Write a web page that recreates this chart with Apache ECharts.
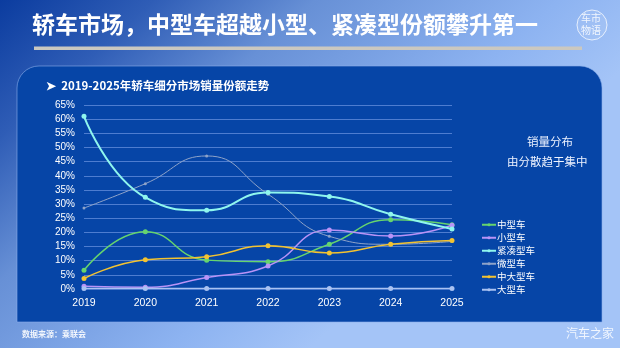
<!DOCTYPE html>
<html>
<head>
<meta charset="utf-8">
<script src="https://cdn.jsdelivr.net/npm/echarts@6/dist/echarts.min.js"></script>
<style>
  html, body { margin: 0; padding: 0; }
  #chart { width: 620px; height: 348px; }
</style>
</head>
<body>
<div id="chart"></div>
<script>
// years on x axis
var years = ['2019', '2020', '2021', '2022', '2023', '2024', '2025'];

// share of sedan sales, percent
var midSize = [6.6, 20.2, 10.2, 9.6, 15.8, 24.5, 22.7];      // 中型车
var small = [1.0, 0.6, 4.1, 8.1, 20.8, 18.7, 22.5];          // 小型车
var compact = [61.0, 32.4, 27.8, 34.1, 32.7, 26.4, 21.2];    // 紧凑型车
var mini = [28.6, 37.2, 47.0, 33.5, 18.6, 15.8, 16.8];       // 微型车
var midLarge = [3.7, 10.3, 11.4, 15.3, 12.7, 15.8, 17.1];    // 中大型车
var large = [0.2, 0.2, 0.2, 0.2, 0.2, 0.2, 0.2];             // 大型车

var seriesNames = ['中型车', '小型车', '紧凑型车', '微型车', '中大型车', '大型车'];
var seriesData = [midSize, small, compact, mini, midLarge, large];
var seriesColors = ['#66d46e', '#b993f7', '#8ff6ee', '#8ea3c9', '#f3c331', '#a9c2f2'];
var lineWidths = [1.5, 1.5, 2, 1, 1.5, 1.2];

var cjk = '"Noto Sans CJK SC", "Noto Sans", sans-serif';

var chart = echarts.init(document.getElementById('chart'));

var series = seriesNames.map(function (name, i) {
	return {
		name: name,
		type: 'line',
		smooth: true,
		data: seriesData[i],
		symbol: 'circle',
		symbolSize: i === 3 ? 3 : 5,
		itemStyle: { color: seriesColors[i] },
		lineStyle: { width: lineWidths[i], color: seriesColors[i] },
		z: i === 2 ? 5 : 3
	};
});

chart.setOption({
	// page background: dark blue top-left fading to light blue at the bottom
	backgroundColor: new echarts.graphic.LinearGradient(0, 0, 0.5, 1, [
		{ offset: 0, color: '#0b3c9f' },
		{ offset: 0.22, color: '#2f5db6' },
		{ offset: 0.45, color: '#6790d6' },
		{ offset: 0.8, color: '#8db3f1' },
		{ offset: 1, color: '#a4c4f7' }
	]),
	textStyle: { fontFamily: cjk },
	graphic: [
		// dark card behind the chart
		{
			type: 'rect', z: -1,
			shape: { x: 17, y: 66, width: 585, height: 256, r: [22, 22, 0, 0] },
			style: { fill: '#0645a7', stroke: 'rgba(140,175,235,0.6)', lineWidth: 1 }
		},
		// title
		{
			type: 'text', left: 32, top: 13,
			style: { text: '轿车市场，中型车超越小型、紧凑型份额攀升第一', fill: '#ffffff', font: 'bold 23px ' + cjk }
		},
		// underline
		{
			type: 'rect',
			shape: { x: 34, y: 46.5, width: 548, height: 3.5 },
			style: { fill: '#cbc8c0' }
		},
		// logo
		{
			type: 'circle',
			shape: { cx: 592, cy: 25, r: 15 },
			style: { fill: 'rgba(255,255,255,0.08)', stroke: 'rgba(255,255,255,0.75)', lineWidth: 1 }
		},
		{
			type: 'text', left: 581, top: 12,
			style: { text: '车市\n物语', fill: 'rgba(255,255,255,0.85)', font: '10px ' + cjk, lineHeight: 12 }
		},
		// subtitle
		{
			type: 'text', left: 46, top: 80,
			style: { text: '➤  2019-2025年轿车细分市场销量份额走势', fill: '#ffffff', font: 'bold 11.5px ' + cjk }
		},
		// side note
		{
			type: 'text', left: 527, top: 136,
			style: { text: '销量分布', fill: '#eef3ff', font: '11.5px ' + cjk, align: 'center' }
		},
		{
			type: 'text', left: 507, top: 156,
			style: { text: '由分散趋于集中', fill: '#eef3ff', font: '11.5px ' + cjk, align: 'center' }
		},
		// source
		{
			type: 'text', left: 22, top: 330,
			style: { text: '数据来源：乘联会', fill: 'rgba(255,255,255,0.9)', font: 'bold 8px ' + cjk }
		},
		{
			type: 'text', left: 566, top: 327,
			style: { text: '汽车之家', fill: 'rgba(255,255,255,0.85)', font: '12px ' + cjk }
		}
	],
	legend: {
		orient: 'vertical',
		left: 476,
		top: 215,
		itemGap: 3.5,
		itemWidth: 14,
		itemHeight: 4,
		textStyle: { color: '#ffffff', fontSize: 9.5, fontFamily: cjk, padding: [0, 0, 0, -4] },
		data: seriesNames
	},
	grid: { left: 84, right: 168, top: 105, bottom: 59 },
	xAxis: {
		type: 'category',
		data: years,
		boundaryGap: false,
		axisLine: { show: false },
		axisTick: { show: false },
		axisLabel: { color: '#ffffff', fontSize: 10.5, margin: 9, fontFamily: 'Arial, sans-serif' }
	},
	yAxis: {
		type: 'value',
		min: 0,
		max: 65,
		interval: 5,
		axisLine: { show: false },
		axisTick: { show: false },
		axisLabel: { color: '#ffffff', fontSize: 10, margin: 9, formatter: '{value}%', fontFamily: 'Arial, sans-serif' },
		splitLine: { lineStyle: { color: 'rgba(110,150,225,0.7)', width: 1 } }
	},
	series: series
});
</script>
</body>
</html>
